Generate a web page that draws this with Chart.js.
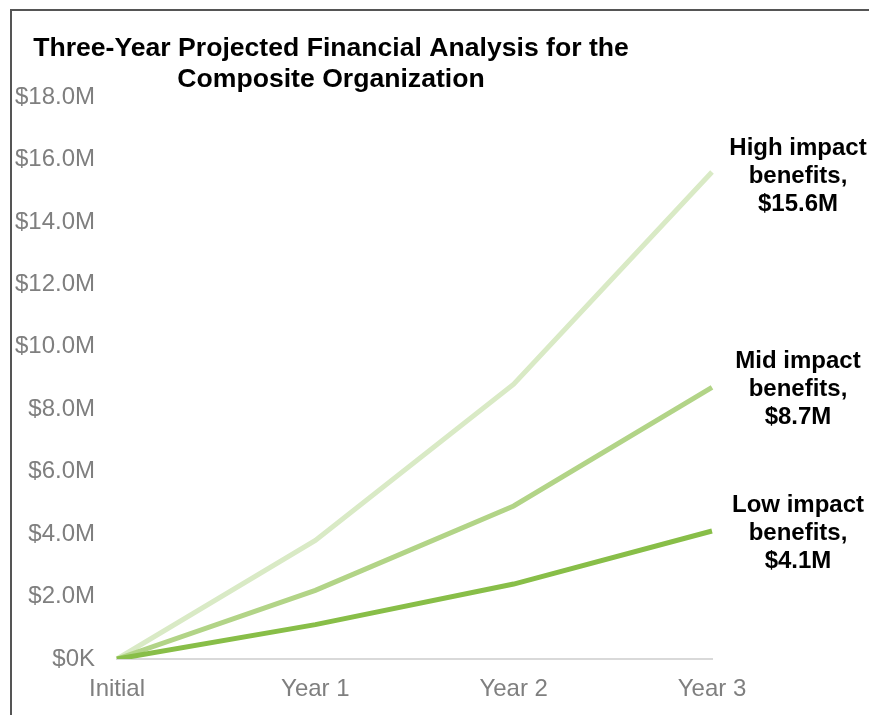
<!DOCTYPE html>
<html>
<head>
<meta charset="utf-8">
<script src="https://cdn.jsdelivr.net/npm/chart.js@4/dist/chart.umd.min.js"></script>
<style>
  html, body { margin:0; padding:0; background:#fff; }
  #wrap { position:relative; width:869px; height:715px; overflow:hidden; }
  #frame { position:absolute; left:10px; top:9px; width:900px; height:800px; border-left:2px solid #555; border-top:2px solid #555; box-sizing:border-box; pointer-events:none; }
  canvas { position:absolute; left:0; top:0; }
</style>
</head>
<body>
<div id="wrap">
  <canvas id="c" width="869" height="715"></canvas>
  <div id="frame"></div>
</div>
<script>
const categories = ["Initial", "Year 1", "Year 2", "Year 3"];
const lowImpact  = [0, 1.1, 2.4, 4.1];
const midImpact  = [0, 2.2, 4.9, 8.7];
const highImpact = [0, 3.8, 8.8, 15.6];
const seriesNames = ["Low impact", "Mid impact", "High impact"];
const endLabels = [
  ["Low impact", "benefits,", "$4.1M"],
  ["Mid impact", "benefits,", "$8.7M"],
  ["High impact", "benefits,", "$15.6M"]
];
const titleLines = ["Three-Year Projected Financial Analysis for the", "Composite Organization"];
const yTickValues = [0, 2, 4, 6, 8, 10, 12, 14, 16, 18];

const FONT = "'Liberation Sans', Arial, sans-serif";

const overlay = {
  id: 'overlay',
  afterDraw(chart) {
    const ctx = chart.ctx;
    ctx.save();
    // title
    ctx.fillStyle = '#000';
    ctx.font = "bold 26.6px " + FONT;
    ctx.textAlign = 'center';
    ctx.textBaseline = 'middle';
    titleLines.forEach((t, i) => ctx.fillText(t, 331, 49 + i * 31));
    // end labels
    ctx.font = "bold 24px " + FONT;
    chart.data.datasets.forEach((ds, di) => {
      const meta = chart.getDatasetMeta(di);
      const last = meta.data[meta.data.length - 1];
      const lines = endLabels[di];
      const lh = 28;
      const y0 = last.y - lh + (di === 2 ? 4 : 2);
      lines.forEach((l, i) => ctx.fillText(l, 798, y0 + i * lh));
    });
    ctx.restore();
  }
};

new Chart(document.getElementById('c'), {
  type: 'line',
  data: {
    labels: categories,
    datasets: [
      { label: seriesNames[0], data: lowImpact,  borderColor: '#88BE48', borderWidth: 5, pointRadius: 0, tension: 0 },
      { label: seriesNames[1], data: midImpact,  borderColor: '#B2D487', borderWidth: 5, pointRadius: 0, tension: 0 },
      { label: seriesNames[2], data: highImpact, borderColor: '#D9EAC5', borderWidth: 5, pointRadius: 0, tension: 0 }
    ]
  },
  options: {
    responsive: false,
    animation: false,
    devicePixelRatio: 1,
    layout: { padding: { left: 0, right: 157, top: 97, bottom: 16 } },
    plugins: { legend: { display: false }, title: { display: false }, tooltip: { enabled: false } },
    scales: {
      x: {
        offset: false,
        grid: { display: false, drawTicks: false },
        border: { display: true, color: '#d9d9d9', width: 2 },
        ticks: { color: '#7f7f7f', font: { family: FONT, size: 24 }, padding: 16, maxRotation: 0 },
        afterFit(s) { s.height = 40; }
      },
      y: {
        min: 0, max: 18,
        grid: { display: false, drawTicks: false },
        border: { display: false },
        afterBuildTicks(s) { s.ticks = yTickValues.map(v => ({ value: v })); },
        ticks: {
          color: '#7f7f7f', font: { family: FONT, size: 24 }, padding: 22,
          callback: v => v === 0 ? '$0K' : '$' + v.toFixed(1) + 'M'
        },
        afterFit(s) { s.width = 117; }
      }
    }
  },
  plugins: [overlay]
});
</script>
</body>
</html>
